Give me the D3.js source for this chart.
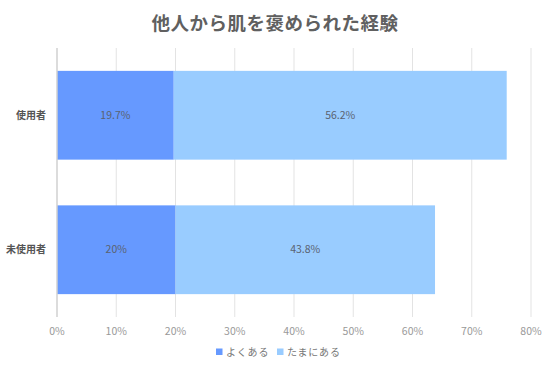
<!DOCTYPE html>
<html>
<head>
<meta charset="utf-8">
<script src="https://cdn.jsdelivr.net/npm/d3@7"></script>
<style>
  body { margin: 0; background: #fff; }
  svg { font-family: "Noto Sans CJK JP", "Noto Sans", sans-serif; }
</style>
</head>
<body>
<div id="chart"></div>
<script>
const WIDTH = 550;
const HEIGHT = 366;
const MARGINS = { left: 57, right: 19, top: 48, bottom: 49 };

// data
const categories = ["使用者", "未使用者"];
const seriesNames = ["よくある", "たまにある"];
const often = [19.7, 20];
const sometimes = [56.2, 43.8];
const oftenLabels = ["19.7%", "20%"];
const sometimesLabels = ["56.2%", "43.8%"];
const xTicks = [0, 10, 20, 30, 40, 50, 60, 70, 80];
const colors = ["#6699ff", "#99ccff"];

let plot_width = WIDTH - MARGINS.left - MARGINS.right;
let plot_height = HEIGHT - MARGINS.top - MARGINS.bottom;

let svg = d3.select("#chart").append("svg")
  .attr("width", WIDTH)
  .attr("height", HEIGHT);

let x = d3.scaleLinear().domain([0, 80]).range([0, plot_width]);
let y = d3.scaleBand().domain(categories).range([0, plot_height])
  .paddingInner(0.34).paddingOuter(0.17);

let g = svg.append("g")
  .attr("transform", "translate(" + MARGINS.left + "," + MARGINS.top + ")");

// grid lines
g.selectAll(".grid")
  .data(xTicks.slice(1))
  .enter()
  .append("line")
  .attr("x1", d => x(d))
  .attr("x2", d => x(d))
  .attr("y1", 0)
  .attr("y2", plot_height)
  .attr("stroke", "#e3e3e3")
  .attr("stroke-width", 1);

// bars
let rows = categories.map((c, i) => ({
  cat: c,
  parts: [
    { start: 0, value: often[i], label: oftenLabels[i], color: colors[0] },
    { start: often[i], value: sometimes[i], label: sometimesLabels[i], color: colors[1] }
  ]
}));

let rowG = g.selectAll(".row")
  .data(rows)
  .enter()
  .append("g")
  .attr("transform", d => "translate(0," + y(d.cat) + ")");

rowG.selectAll("rect")
  .data(d => d.parts)
  .enter()
  .append("rect")
  .attr("x", d => x(d.start))
  .attr("width", d => x(d.start + d.value) - x(d.start))
  .attr("y", 0)
  .attr("height", y.bandwidth())
  .attr("fill", d => d.color);

rowG.selectAll("text")
  .data(d => d.parts)
  .enter()
  .append("text")
  .attr("x", d => x(d.start + d.value / 2))
  .attr("y", y.bandwidth() / 2)
  .attr("dy", "0.35em")
  .attr("text-anchor", "middle")
  .style("font-size", "10.5px")
  .attr("fill", "#5a6270")
  .text(d => d.label);

// left axis line
g.append("line")
  .attr("x1", 0).attr("x2", 0)
  .attr("y1", 0).attr("y2", plot_height)
  .attr("stroke", "#d0d0d0")
  .attr("stroke-width", 1.5);

// category labels
g.selectAll(".cat")
  .data(categories)
  .enter()
  .append("text")
  .attr("x", -11)
  .attr("y", d => y(d) + y.bandwidth() / 2)
  .attr("dy", "0.35em")
  .attr("text-anchor", "end")
  .style("font-size", "10px")
  .style("font-weight", "bold")
  .attr("fill", "#555")
  .text(d => d);

// x tick labels
g.selectAll(".tick-label")
  .data(xTicks)
  .enter()
  .append("text")
  .attr("x", d => x(d))
  .attr("y", plot_height + 18)
  .attr("text-anchor", "middle")
  .style("font-size", "10.5px")
  .attr("fill", "#999")
  .text(d => d + "%");

// title
svg.append("text")
  .attr("x", WIDTH / 2)
  .attr("y", 30)
  .attr("text-anchor", "middle")
  .style("font-size", "18.5px")
  .style("font-weight", "bold")
  .style("letter-spacing", "0.5px")
  .attr("fill", "#606060")
  .text("他人から肌を褒められた経験");

// legend
let legend = svg.append("g").attr("transform", "translate(216,352)");
let legendX = [0, 61];
seriesNames.forEach((name, i) => {
  let lg = legend.append("g").attr("transform", "translate(" + legendX[i] + ",0)");
  lg.append("rect")
    .attr("x", 0).attr("y", -3.5)
    .attr("width", 6.5).attr("height", 6.5)
    .attr("fill", colors[i]);
  lg.append("text")
    .attr("x", 10)
    .attr("y", 0)
    .attr("dy", "0.35em")
    .style("font-size", "10px")
    .style("letter-spacing", "0.8px")
    .attr("fill", "#777")
    .text(name);
});
</script>
</body>
</html>
